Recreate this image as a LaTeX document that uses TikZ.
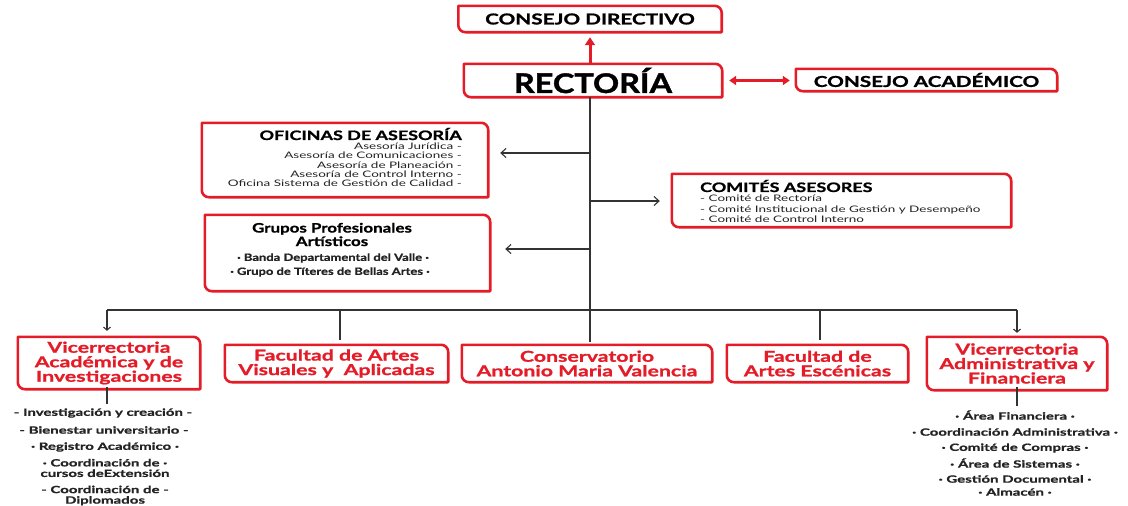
\documentclass[tikz,border=0pt]{standalone}
\usepackage{fontspec}
\setmainfont{Lato}
\newfontfamily\fA{Lato}[FakeStretch=1.38, BoldFeatures={FakeBold=1.2}]
\newfontfamily\fR{Lato}[FakeStretch=1.2, BoldFeatures={FakeBold=1.5}]
\newfontfamily\fG{Lato}[FakeStretch=1.3, BoldFeatures={FakeBold=1}]
\newfontfamily\fB{Lato}[FakeStretch=1.42, BoldFeatures={FakeBold=1.2}]
\newfontfamily\fS{Lato}[FakeStretch=1.5, BoldFeatures={FakeBold=1}]
\usetikzlibrary{arrows.meta}
\definecolor{rred}{RGB}{228,28,40}
\definecolor{dtext}{RGB}{35,35,35}
\tikzset{
  boxn/.style={draw=none, inner sep=0pt, align=center},
  boxline/.style={draw=rred, line width=2.6pt, line join=round},
  conn/.style={draw=black!80, line width=1.1pt},
  redarr/.style={draw=rred, line width=3pt},
  item/.style={inner sep=0pt, font=\fS\fontsize{10}{11}\selectfont\bfseries, text=dtext, align=center},
  small/.style={inner sep=0pt, font=\fS\fontsize{9}{9.4}\selectfont, text=dtext},
  redtxt/.style={boxn, text=rred, font=\fB\fontsize{15}{14.5}\selectfont\bfseries},
  head/.style={inner sep=0pt, font=\fA\fontsize{13}{15}\selectfont\bfseries},
}
\newcommand\rbox[1]{\draw[boxline] (#1.north west) [rounded corners=7pt] -- (#1.north east) [sharp corners] -- (#1.south east) [rounded corners=7pt] -- (#1.south west) [sharp corners] -- cycle;}
\begin{document}
\begin{tikzpicture}[x=1pt,y=-1pt]
\useasboundingbox (0,0) rectangle (1128,506);
% top
\node[boxn, minimum width=263pt, minimum height=26pt, font=\fA\fontsize{15}{18}\selectfont\bfseries] (CD) at (590,19) {CONSEJO DIRECTIVO};
\node[boxn, minimum width=258pt, minimum height=33pt, font=\fR\fontsize{27}{30}\selectfont\bfseries] (RE) at (593,80.5) {RECTORÍA};
\node[boxn, minimum width=261pt, minimum height=22pt, font=\fA\fontsize{15}{18}\selectfont\bfseries] (CA) at (926.5,80) {CONSEJO ACADÉMICO};
\rbox{CD}\rbox{RE}\rbox{CA}
\draw[redarr, -{Triangle[length=8pt,width=10pt]}, shorten >=5pt] (RE.north -| CD.south) -- (CD.south);
\draw[redarr, {Triangle[length=7pt,width=9pt]}-{Triangle[length=7pt,width=9pt]}, shorten >=6pt, shorten <=7pt] (RE.east) -- (RE.east -| CA.west);
% oficinas
\node[boxn, minimum width=286pt, minimum height=74pt] (OF) at (345,160) {};
\rbox{OF}
\node[head, anchor=east] (OFt) at (462,134) {OFICINAS DE ASESORÍA};
\node[small, anchor=north east, align=right] (OFi) at (462,142.5) {Asesoría Jurídica -\\Asesoría de Comunicaciones -\\Asesoría de Planeación -\\Asesoría de Control Interno -\\Oficina Sistema de Gestión de Calidad -};
% comites
\node[boxn, minimum width=339pt, minimum height=53pt] (CO) at (841.5,200.5) {};
\rbox{CO}
\node[head, anchor=west] (COt) at (700,186) {COMITÉS ASESORES};
\node[small, anchor=north west, align=left, font=\fS\fontsize{9}{10.4}\selectfont] (COi) at (700,195) {- Comité de Rectoría\\- Comité Institucional de Gestión y Desempeño\\- Comité de Control Interno};
% grupos
\node[boxn, minimum width=285pt, minimum height=76pt] (GP) at (347.5,253) {};
\rbox{GP}
\node[inner sep=0pt, align=center, font=\fG\fontsize{13}{13.5}\selectfont\bfseries] (GPt) at (332,234.5) {Grupos Profesionales\\Artísticos};
\node[item, font=\fG\fontsize{10}{11}\selectfont\bfseries] (GP1) at (333,258) {· Banda Departamental del Valle ·};
\node[item, font=\fG\fontsize{10}{11}\selectfont\bfseries] (GP2) at (330,272) {· Grupo de Títeres de Bellas Artes ·};
% trunk
\coordinate (t1) at (590,153);
\coordinate (t2) at (590,201);
\coordinate (t3) at (590,249);
\coordinate (bus) at (590,310);
\draw[conn] (RE.south -| bus) -- (bus);
\draw[conn, -{Straight Barb[length=5pt,width=9pt]}, shorten >=12pt] (t1) -- (OF.east |- t1);
\draw[conn, -{Straight Barb[length=5pt,width=9pt]}, shorten >=12pt] (t2) -- (CO.west |- t2);
\draw[conn, -{Straight Barb[length=5pt,width=9pt]}, shorten >=15pt] (t3) -- (GP.east |- t3);
% bottom boxes
\node[redtxt, minimum width=182pt, minimum height=52pt] (VA) at (109,363) {Vicerrectoria\\Académica y de\\Investigaciones};
\node[redtxt, minimum width=223pt, minimum height=37pt] (FV) at (336.5,363.5) {Facultad de Artes\\Visuales y \ Aplicadas};
\node[redtxt, minimum width=250pt, minimum height=37pt] (CN) at (587,363.5) {Conservatorio\\Antonio Maria Valencia};
\node[redtxt, minimum width=181pt, minimum height=37pt] (FE) at (817.5,363.5) {Facultad de\\Artes Escénicas};
\node[redtxt, minimum width=180pt, minimum height=53pt] (VF) at (1017,363.5) {Vicerrectoria\\Administrativa y\\Financiera};
\rbox{VA}\rbox{FV}\rbox{CN}\rbox{FE}\rbox{VF}
\coordinate (bA) at (107,310);
\coordinate (bV) at (340,310);
\coordinate (bE) at (820,310);
\coordinate (bF) at (1017,310);
\draw[conn] (bA) -- (bF);
\draw[conn, -{Straight Barb[length=3pt,width=7pt]}, shorten >=6pt] (bA) -- (bA |- VA.north);
\draw[conn, shorten >=5pt] (bV) -- (bV |- FV.north);
\draw[conn, shorten >=3pt] (bus) -- (bus |- CN.north);
\draw[conn, shorten >=5pt] (bE) -- (bE |- FE.north);
\draw[conn, -{Straight Barb[length=3pt,width=7pt]}, shorten >=4pt] (bF) -- (bF |- VF.north);
% sub-items
\coordinate (sa) at (107,404);
\coordinate (sf) at (1017,406);
\draw[conn] ([yshift=2pt]VA.south -| sa) -- (sa);
\draw[conn] ([yshift=3pt]VF.south -| sf) -- (sf);
\node[item] (va1) at (103,413) {- Investigación y creación -};
\node[item] (va2) at (104,430) {- Bienestar universitario -};
\node[item] (va3) at (105,447) {· Registro Académico ·};
\node[item, font=\fS\fontsize{10}{10.5}\selectfont\bfseries] (va4) at (105,468) {· Coordinación de ·\\cursos deExtensión};
\node[item, font=\fS\fontsize{10}{10.5}\selectfont\bfseries] (va5) at (105,495.5) {- Coordinación de -\\Diplomados};
\node[item] (vf1) at (1015,415) {· Área Financiera ·};
\node[item] (vf2) at (1015,432) {· Coordinación Administrativa ·};
\node[item] (vf3) at (1015,448) {· Comité de Compras ·};
\node[item] (vf4) at (1015,463) {· Área de Sistemas ·};
\node[item] (vf5) at (1015,479) {· Gestión Documental ·};
\node[item] (vf6) at (1015,492) {· Almacén ·};
\end{tikzpicture}
\end{document}
